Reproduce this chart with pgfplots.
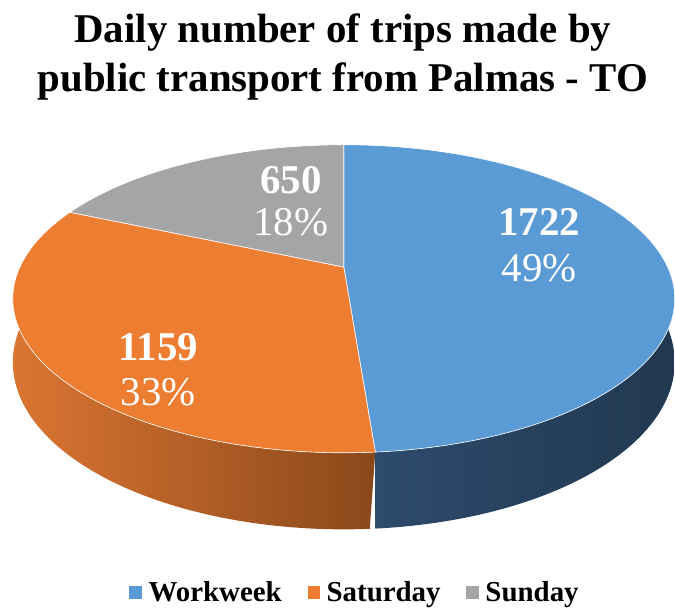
\documentclass[border=0pt]{standalone}
\usepackage{fontspec}
\setmainfont{Liberation Serif}
\usepackage{pgfplots}
\pgfplotsset{compat=1.18}

\definecolor{cW}{HTML}{5B9BD5}
\definecolor{cS}{HTML}{ED7D31}
\definecolor{cU}{HTML}{A5A5A5}
\definecolor{cWsL}{HTML}{2D4B6C}
\definecolor{cWsR}{HTML}{213850}
\definecolor{cSsL}{HTML}{DB7532}
\definecolor{cSsR}{HTML}{8A481B}

% data
\def\vW{1722}
\def\vS{1159}
\def\vU{650}
\pgfmathsetmacro\tot{\vW+\vS+\vU}
\pgfmathsetmacro\aA{90}
\pgfmathsetmacro\aB{90-360*(\vW/\tot)}
\pgfmathsetmacro\aC{\aB-360*(\vS/\tot)}
\pgfmathsetmacro\aD{-270}

% geometry (pixels)
\def\cx{345}
\def\cy{268}
\def\R{325}
\def\Ry{148}
\def\kk{0.206}
\def\hh{61}

\begin{document}
\begin{tikzpicture}[
  declare function={
    px(\a)=\cx+\R*cos(\a)/(1+\kk*sin(\a));
    py(\a)=\cy-\Ry*sin(\a)/(1+\kk*sin(\a));
    dep(\a)=\hh/(1+\kk*sin(\a));
    tt(\s,\a,\b)=(\s<=1)*(\a+(\b-\a)*\s)+(\s>1)*(\b-(\b-\a)*(\s-1));
  }]
\begin{axis}[
  scale only axis, width=675pt, height=615pt,
  xmin=0, xmax=675, ymin=0, ymax=615, y dir=reverse,
  axis line style={draw=none}, ticks=none, clip=false,
  legend columns=3,
  legend style={draw=none, fill=none, at={(axis description cs:0.528,0.034)}, anchor=center,
    font=\fontsize{29}{34}\selectfont\bfseries,
    /tikz/every odd column/.append style={column sep=5pt},
    /tikz/every even column/.append style={column sep=24pt}},
  legend cell align=left,
]
% sides (front)
\addplot[forget plot, draw=none, left color=cSsL, right color=cSsR, domain=0:2, samples=241, variable=\s]
  ({px(tt(\s,-180,\aB))},{py(tt(\s,-180,\aB))+(\s>1)*dep(tt(\s,-180,\aB))}) -- cycle;
\addplot[forget plot, draw=none, left color=cWsL, right color=cWsR, domain=0:2, samples=241, variable=\s]
  ({px(tt(\s,\aB,0))},{py(tt(\s,\aB,0))+(\s>1)*dep(tt(\s,\aB,0))}) -- cycle;
% top faces
\addplot[forget plot, fill=cW, draw=white, line width=0.6pt, domain=\aB:\aA, samples=150, variable=\t]
  ({px(\t)},{py(\t)}) -- (axis cs:\cx,\cy) -- cycle;
\addplot[forget plot, fill=cS, draw=white, line width=0.6pt, domain=\aC:\aB, samples=120, variable=\t]
  ({px(\t)},{py(\t)}) -- (axis cs:\cx,\cy) -- cycle;
\addplot[forget plot, fill=cU, draw=white, line width=0.6pt, domain=\aD:\aC, samples=80, variable=\t]
  ({px(\t)},{py(\t)}) -- (axis cs:\cx,\cy) -- cycle;

\addlegendimage{only marks, mark=square*, color=cW, mark size=6pt}
\addlegendentry{Workweek}
\addlegendimage{only marks, mark=square*, color=cS, mark size=6pt}
\addlegendentry{Saturday}
\addlegendimage{only marks, mark=square*, color=cU, mark size=6pt}
\addlegendentry{Sunday}

% title
\node[anchor=base, font=\fontsize{41}{48}\selectfont\bfseries] at (axis cs:344,43) {Daily number of trips made by};
\node[anchor=base, font=\fontsize{41}{48}\selectfont\bfseries] at (axis cs:344,92) {public transport from Palmas - TO};
% data labels
\node[anchor=base, text=white, font=\fontsize{41}{48}\selectfont\bfseries] at (axis cs:292,194) {650};
\node[anchor=base, text=white, font=\fontsize{41}{48}\selectfont] at (axis cs:292,236) {18\%};
\node[anchor=base, text=white, font=\fontsize{41}{48}\selectfont\bfseries] at (axis cs:541,236) {1722};
\node[anchor=base, text=white, font=\fontsize{41}{48}\selectfont] at (axis cs:541,282) {49\%};
\node[anchor=base, text=white, font=\fontsize{41}{48}\selectfont\bfseries] at (axis cs:159,362) {1159};
\node[anchor=base, text=white, font=\fontsize{41}{48}\selectfont] at (axis cs:159,407) {33\%};
\end{axis}
\end{tikzpicture}
\end{document}
